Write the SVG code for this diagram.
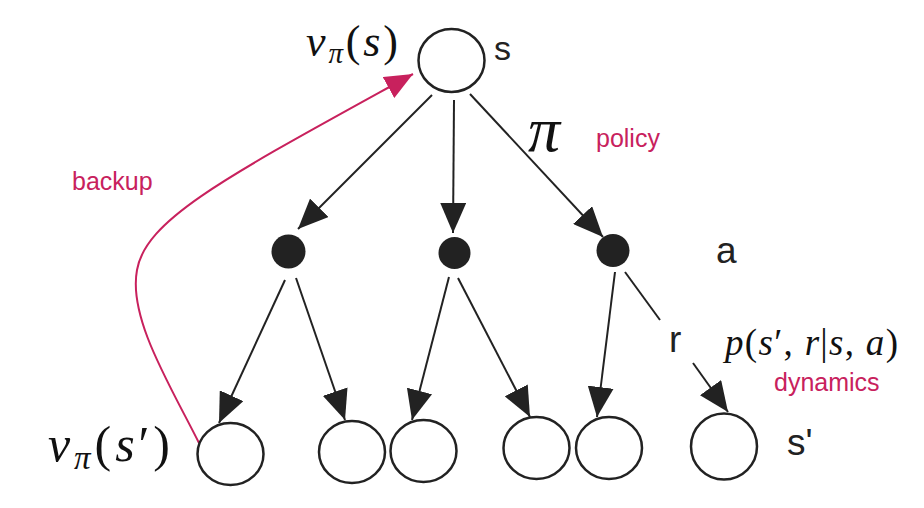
<svg xmlns="http://www.w3.org/2000/svg" width="924" height="508" viewBox="0 0 924 508">
<style>
.st{fill:#fff;stroke:#222;stroke-width:2.5}
.ac{fill:#222}
.e{stroke:#222;stroke-width:2;fill:none}
.lab{font-family:"Liberation Sans",Arial,sans-serif;fill:#222}
.pk{font-family:"Liberation Sans",Arial,sans-serif;fill:#C8215D;font-size:25px}
.m{font-family:"Liberation Serif","Times New Roman",serif;fill:#111}
.i{font-style:italic}
</style>
<defs>
<marker id="ah" markerUnits="userSpaceOnUse" markerWidth="30" markerHeight="26" refX="30" refY="13" orient="auto" viewBox="0 0 30 26">
<path d="M0,0 L30,13 L0,26 z" fill="#222"/>
</marker>
<marker id="ahp" markerUnits="userSpaceOnUse" markerWidth="28" markerHeight="24" refX="28" refY="12" orient="auto" viewBox="0 0 28 24">
<path d="M0,0 L28,12 L0,24 z" fill="#C8215D"/>
</marker>
</defs>
<g id="connectors">
<line class="e" x1="432" y1="95" x2="298" y2="229" marker-end="url(#ah)"/>
<line class="e" x1="454" y1="100" x2="453" y2="233" marker-end="url(#ah)"/>
<line class="e" x1="470" y1="94" x2="603" y2="237" marker-end="url(#ah)"/>
<line class="e" x1="285" y1="280" x2="219" y2="423" marker-end="url(#ah)"/>
<line class="e" x1="296" y1="278" x2="345" y2="420" marker-end="url(#ah)"/>
<line class="e" x1="449" y1="277" x2="412" y2="420" marker-end="url(#ah)"/>
<line class="e" x1="458" y1="278" x2="530" y2="417" marker-end="url(#ah)"/>
<line class="e" x1="615" y1="272" x2="597" y2="417" marker-end="url(#ah)"/>
<line class="e" x1="625" y1="272" x2="660" y2="320"/>
<line class="e" x1="693" y1="363" x2="728" y2="412" marker-end="url(#ah)"/>
<path d="M199,443 C170,385 128,318 137,270 C146,218 230,175 413,74" fill="none" stroke="#C8215D" stroke-width="2" marker-end="url(#ahp)"/>
</g>
<g id="node-s"><ellipse class="st" cx="451.5" cy="60.5" rx="33" ry="31.5"/></g>
<g id="node-a1"><circle class="ac" cx="288.5" cy="251.5" r="17"/></g>
<g id="node-a2"><circle class="ac" cx="454.5" cy="253" r="16"/></g>
<g id="node-a3"><circle class="ac" cx="613" cy="250.5" r="16.5"/></g>
<g id="node-s1"><ellipse class="st" cx="230.5" cy="454" rx="33" ry="31"/></g>
<g id="node-s2"><ellipse class="st" cx="352" cy="452" rx="33" ry="31"/></g>
<g id="node-s3"><ellipse class="st" cx="423.5" cy="451" rx="33" ry="31"/></g>
<g id="node-s4"><ellipse class="st" cx="536.5" cy="448" rx="33" ry="31"/></g>
<g id="node-s5"><ellipse class="st" cx="609" cy="448" rx="33" ry="31"/></g>
<g id="node-s6"><ellipse class="st" cx="724" cy="446.5" rx="33" ry="33"/></g>
<g id="labels">
<text class="lab" x="494" y="60" font-size="34">s</text>
<text class="lab" x="716" y="263" font-size="37">a</text>
<text class="lab" x="669" y="352" font-size="37">r</text>
<text class="lab" x="787" y="455" font-size="37">s'</text>
<text class="m i" x="528" y="151" font-size="64">π</text>
<text class="pk" x="596" y="147">policy</text>
<text class="pk" x="72" y="190">backup</text>
<text class="pk" x="774" y="391">dynamics</text>
<text class="m" x="306" y="56" font-size="44" textLength="92" lengthAdjust="spacing"><tspan class="i">v</tspan><tspan class="i" font-size="29" dy="7">π</tspan><tspan dy="-7">(</tspan><tspan class="i">s</tspan>)</text>
<text class="m" x="48" y="461" font-size="50" textLength="122" lengthAdjust="spacing"><tspan class="i">v</tspan><tspan class="i" font-size="33" dy="8">π</tspan><tspan dy="-8">(</tspan><tspan class="i">s</tspan>′)</text>
<text class="m" x="725" y="355" font-size="37" textLength="173" lengthAdjust="spacing"><tspan class="i">p</tspan>(<tspan class="i">s</tspan>′, <tspan class="i">r</tspan>|<tspan class="i">s</tspan>, <tspan class="i">a</tspan>)</text>
</g>
</svg>
